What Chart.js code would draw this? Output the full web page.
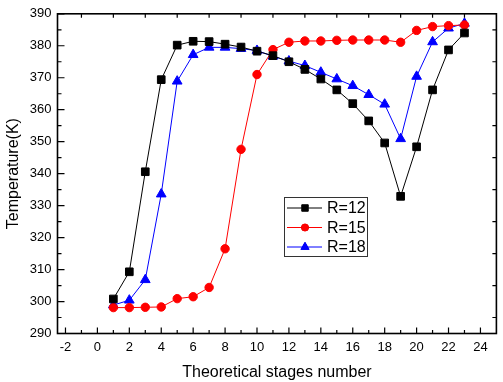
<!DOCTYPE html>
<html><head><meta charset="utf-8">
<script src="https://cdn.jsdelivr.net/npm/chart.js@4/dist/chart.umd.min.js"></script>
<style>html,body{margin:0;padding:0;background:#fff;overflow:hidden}</style>
</head><body>
<canvas id="c" width="503" height="382"></canvas>
<script>
const stages = [1,2,3,4,5,6,7,8,9,10,11,12,13,14,15,16,17,18,19,20,21,22,23];
const r12 = [300.8,309.3,340.6,369.4,380.2,381.4,381.3,380.5,379.6,378.3,376.9,375.0,372.6,369.6,366.2,361.9,356.5,349.6,332.9,348.4,366.2,378.7,384.0];
const r15 = [298.1,298.1,298.2,298.3,300.9,301.5,304.4,316.5,347.6,371.0,378.8,381.1,381.5,381.5,381.7,381.8,381.8,381.8,381.1,384.8,386.0,386.3,386.5];
const r18 = [298.9,300.4,306.8,333.6,368.9,377.2,379.5,379.5,379.1,378.5,376.7,375.2,373.8,371.7,369.6,367.5,364.7,361.7,350.9,370.4,381.2,385.5,387.0];
const seriesNames = ['R=12','R=15','R=18'];
const xTicks = [-2,0,2,4,6,8,10,12,14,16,18,20,22,24];
const yTicks = [290,300,310,320,330,340,350,360,370,380,390];
const xMinorTicks = [-1,1,3,5,7,9,11,13,15,17,19,21,23];
const yMinorTicks = [295,305,315,325,335,345,355,365,375,385];

const toPts = arr => stages.map((s,i)=>({x:s,y:arr[i]}));
const FONT = 'Liberation Sans, Arial, sans-serif';

const frame = {
  id:'frame',
  afterDatasetsDraw(chart){
    const ctx = chart.ctx, a = chart.chartArea;
    const xs = chart.scales.x, ys = chart.scales.y;
    ctx.save();
    ctx.strokeStyle = '#000';
    ctx.lineWidth = 1.6;
    ctx.strokeRect(a.left, a.top, a.right - a.left, a.bottom - a.top);
    ctx.lineWidth = 1.2;
    ctx.beginPath();
    xTicks.forEach(v=>{const p=xs.getPixelForValue(v); ctx.moveTo(p,a.bottom); ctx.lineTo(p,a.bottom-6);});
    xMinorTicks.forEach(v=>{const p=xs.getPixelForValue(v); ctx.moveTo(p,a.bottom); ctx.lineTo(p,a.bottom-3.5);});
    xMinorTicks.forEach(v=>{const p=xs.getPixelForValue(v); ctx.moveTo(p,a.top); ctx.lineTo(p,a.top+4);});
    yTicks.forEach(v=>{const p=ys.getPixelForValue(v); ctx.moveTo(a.left,p); ctx.lineTo(a.left+7,p);});
    yMinorTicks.forEach(v=>{const p=ys.getPixelForValue(v); ctx.moveTo(a.left,p); ctx.lineTo(a.left+4,p);});
    yMinorTicks.forEach(v=>{const p=ys.getPixelForValue(v); ctx.moveTo(a.right,p); ctx.lineTo(a.right-4,p);});
    ctx.stroke();

    // legend
    const bx=284, by=197, bw=83, bh=59;
    ctx.fillStyle='#fff';
    ctx.fillRect(bx,by,bw,bh);
    ctx.lineWidth=1;
    ctx.strokeStyle='#333';
    ctx.strokeRect(bx+0.5,by+0.5,bw,bh);
    chart.data.datasets.forEach((ds,i)=>{
      const y = by + 11 + i*19.5;
      ctx.strokeStyle = ds.borderColor; ctx.lineWidth = 1;
      ctx.beginPath(); ctx.moveTo(287,y); ctx.lineTo(322,y); ctx.stroke();
      Chart.helpers.drawPoint(ctx,{pointStyle:ds.pointStyle,radius:ds.pointRadius*0.85,borderWidth:1},305,y);
      ctx.fillStyle = ds.pointBackgroundColor;
      ctx.fill();
      ctx.fillStyle='#000';
      ctx.font = '16px ' + FONT;
      ctx.textBaseline='middle';
      ctx.textAlign='left';
      ctx.fillText(ds.label, 327, y+1);
    });
    ctx.restore();
  }
};

const mk = (label, arr, color, style, r) => ({
  label, data: toPts(arr), borderColor: color, backgroundColor: color,
  pointBackgroundColor: color, pointBorderColor: color, pointStyle: style,
  pointRadius: r, pointBorderWidth: 1, borderWidth: 1, tension: 0
});

new Chart(document.getElementById('c'), {
  type: 'line',
  data: { datasets: [
    mk(seriesNames[0], r12, '#000000', 'rect', 5.4),
    mk(seriesNames[1], r15, '#ff0000', 'circle', 4.2),
    mk(seriesNames[2], r18, '#0000ff', 'triangle', 5.6)
  ]},
  options: {
    responsive: false, animation: false,
    layout: { padding: { top: 13, right: 5, left: 0, bottom: 0 } },
    plugins: { legend: { display: false }, tooltip: { enabled: false } },
    scales: {
      x: {
        type: 'linear', min: -2.5, max: 25,
        afterBuildTicks: s => { s.ticks = xTicks.map(v=>({value:v})); },
        afterFit: s => { s.height = 48.5; },
        grid: { display: false, drawTicks: false },
        border: { display: false },
        ticks: { color: '#000', font: { family: FONT, size: 13 }, padding: 6, maxRotation: 0, autoSkip: false },
        title: { display: true, text: 'Theoretical stages number', color: '#000', font: { family: FONT, size: 16 }, padding: { top: 0, bottom: 0 } }
      },
      y: {
        type: 'linear', min: 290, max: 390,
        afterBuildTicks: s => { s.ticks = yTicks.map(v=>({value:v})); },
        afterFit: s => { s.width = 57.5; },
        grid: { display: false, drawTicks: false },
        border: { display: false },
        ticks: { color: '#000', font: { family: FONT, size: 13 }, padding: 6, autoSkip: false },
        title: { display: true, text: 'Temperature(K)', color: '#000', font: { family: FONT, size: 16 }, padding: { top: 4, bottom: 0 } }
      }
    }
  },
  plugins: [frame]
});
</script>
</body></html>
